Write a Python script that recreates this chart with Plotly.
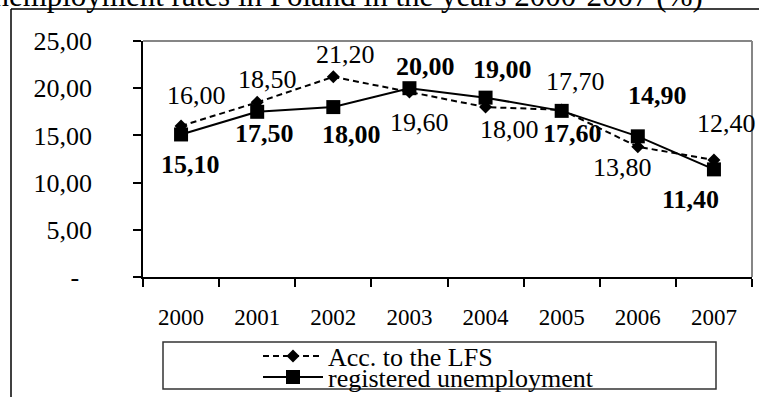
import plotly.graph_objects as go

# ---------------- data ----------------
years = ["2000", "2001", "2002", "2003", "2004", "2005", "2006", "2007"]
lfs = [16.00, 18.50, 21.20, 19.60, 18.00, 17.70, 13.80, 12.40]
registered = [15.10, 17.50, 18.00, 20.00, 19.00, 17.60, 14.90, 11.40]
lfs_name = "Acc. to the LFS"
reg_name = "registered unemployment"
title_text = "Unemployment rates in Poland in the years 2000-2007 (%)"
y_tick_vals = [0, 5, 10, 15, 20, 25]
y_tick_text = ["-\u00a0\u00a0", "5,00", "10,00", "15,00", "20,00", "25,00"]

# label offsets (px) relative to each point
lfs_dx = [15, 10, 12, 10, 24, 14, -15, 13]
lfs_dy = [30, 23, 22, -31, -22, 28, -21, 36]
reg_dx = [9, 7, 18, 16, 17, 11, 20, -23]
reg_dy = [-30, -22, -27, 22, 28, -23, 41, -30]

FONT = "Liberation Serif"
W, H = 759, 397
L, R, T, B = 143, 7, 41, 120
PW, PH = W - L - R, H - T - B


def px_x(px):
    return (px - L) / PW


def px_y(py):
    return (H - B - py) / PH


def fmt(v):
    return f"{v:.2f}".replace(".", ",")


fig = go.Figure()
fig.add_trace(go.Scatter(
    x=years, y=lfs, name=lfs_name, mode="lines+markers",
    line=dict(color="black", width=2, dash="6px,4px"),
    marker=dict(symbol="diamond", size=10, color="black"),
    legend="legend",
))
fig.add_trace(go.Scatter(
    x=years, y=registered, name=reg_name, mode="lines+markers",
    line=dict(color="black", width=2),
    marker=dict(symbol="square", size=14, color="black"),
    legend="legend2",
))

annotations = []
for i, v in enumerate(lfs):
    annotations.append(dict(x=i, y=v, xref="x", yref="y", text=fmt(v),
                            showarrow=False, xshift=lfs_dx[i], yshift=lfs_dy[i],
                            font=dict(family=FONT, size=26, color="black")))
for i, v in enumerate(registered):
    annotations.append(dict(x=i, y=v, xref="x", yref="y", text="<b>" + fmt(v) + "</b>",
                            showarrow=False, xshift=reg_dx[i], yshift=reg_dy[i],
                            font=dict(family=FONT, size=26, color="black")))
annotations.append(dict(x=px_x(705), y=px_y(15), xref="paper", yref="paper",
                        xanchor="right", yanchor="bottom", text=title_text,
                        showarrow=False, font=dict(family=FONT, size=31, color="black")))

shapes = [
    # outer frame
    dict(type="line", xref="paper", yref="paper", x0=px_x(11), x1=px_x(11),
         y0=px_y(9), y1=px_y(400), line=dict(color="black", width=1.5)),
    dict(type="line", xref="paper", yref="paper", x0=px_x(11), x1=px_x(762),
         y0=px_y(9), y1=px_y(9), line=dict(color="black", width=1.5)),
    # grey plot frame top / right
    dict(type="line", xref="paper", yref="paper", x0=0, x1=1, y0=1, y1=1,
         line=dict(color="#868686", width=2)),
    dict(type="line", xref="paper", yref="paper", x0=1, x1=1, y0=0, y1=1,
         line=dict(color="#868686", width=2)),
    # legend box
    dict(type="rect", xref="paper", yref="paper", x0=px_x(163), x1=px_x(716),
         y0=px_y(389), y1=px_y(342), line=dict(color="#333333", width=1.5)),
]

legend_common = dict(xanchor="left", yanchor="middle", x=px_x(258),
                     font=dict(family=FONT, size=26, color="black"),
                     itemwidth=60, bgcolor="rgba(0,0,0,0)", borderwidth=0)

fig.update_layout(
    width=W, height=H,
    margin=dict(l=L, r=R, t=T, b=B, pad=0, autoexpand=False),
    paper_bgcolor="white", plot_bgcolor="white",
    showlegend=True,
    legend=dict(y=px_y(356), **legend_common),
    legend2=dict(y=px_y(377), **legend_common),
    annotations=annotations,
    shapes=shapes,
    xaxis=dict(type="category", range=[-0.5, 7.5], autorange=False,
               showgrid=False, zeroline=False, tickangle=0,
               showline=True, linecolor="black", linewidth=1.5,
               ticks="outside", ticklen=8, tickcolor="black", tickwidth=1.5,
               tickson="boundaries", ticklabelstandoff=19,
               tickfont=dict(family=FONT, size=23, color="black")),
    yaxis=dict(range=[0, 25], autorange=False, showgrid=False, zeroline=False,
               showline=True, linecolor="black", linewidth=1.5,
               ticks="outside", ticklen=8, tickcolor="black", tickwidth=1.5,
               tickvals=y_tick_vals, ticktext=y_tick_text, ticklabelstandoff=36,
               tickfont=dict(family=FONT, size=26, color="black")),
)

fig.write_html("out.html")
